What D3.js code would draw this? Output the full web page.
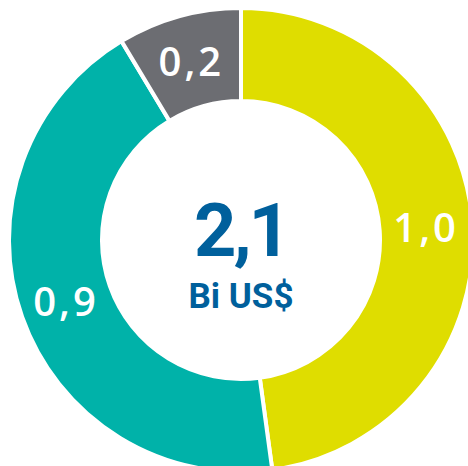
<!DOCTYPE html>
<html lang="en">
<head>
<meta charset="utf-8">
<title>Bi US$</title>
<script src="https://d3js.org/d3.v7.min.js"></script>
<style>
  body { margin: 0; background: #fff; }
  svg { display: block; }
  .slice-label {
    font-family: "Open Sans", sans-serif;
    font-weight: 600;
    font-size: 40px;
    fill: #fff;
    letter-spacing: 3px;
  }
  .total {
    font-family: Roboto, sans-serif;
    font-weight: 700;
    fill: #00609c;
  }
</style>
</head>
<body>
<svg width="468" height="466"></svg>
<script>
// slices clockwise from 12 o'clock
const categories = ["a", "b", "c"];
const values = [1.0, 0.91, 0.18];
const labels = ["1,0", "0,9", "0,2"];
const colors = ["#dfdd00", "#00b2a9", "#6c6d72"];
const totalLabel = "2,1";
const unitLabel = "Bi US$";

const cx = 241, cy = 240;
const outerR = 230, innerR = 141;

const data = categories.map((c, i) => ({ key: c, value: values[i], label: labels[i], color: colors[i] }));

const pie = d3.pie().value(d => d.value).sort(null);
const arc = d3.arc().innerRadius(innerR - 2).outerRadius(outerR + 2);
const labelArc = d3.arc().innerRadius((innerR + outerR) / 2).outerRadius((innerR + outerR) / 2);

const svg = d3.select("svg");
const g = svg.append("g").attr("transform", `translate(${cx},${cy})`);

const arcs = pie(data);

g.selectAll("path")
  .data(arcs)
  .join("path")
  .attr("d", arc)
  .attr("fill", d => d.data.color)
  .attr("stroke", "#fff")
  .attr("stroke-width", 4);

g.selectAll("text.slice-label")
  .data(arcs)
  .join("text")
  .attr("class", "slice-label")
  .attr("transform", d => `translate(${labelArc.centroid(d)})`)
  .attr("text-anchor", "middle")
  .attr("dy", "0.36em")
  .text(d => d.data.label);

g.append("text")
  .attr("class", "total")
  .attr("text-anchor", "middle")
  .attr("y", 16)
  .style("font-size", "74px")
  .style("letter-spacing", "-3px")
  .text(totalLabel);

g.append("text")
  .attr("class", "total")
  .attr("text-anchor", "middle")
  .attr("y", 68)
  .style("font-size", "35px")
  .text(unitLabel);
</script>
</body>
</html>
